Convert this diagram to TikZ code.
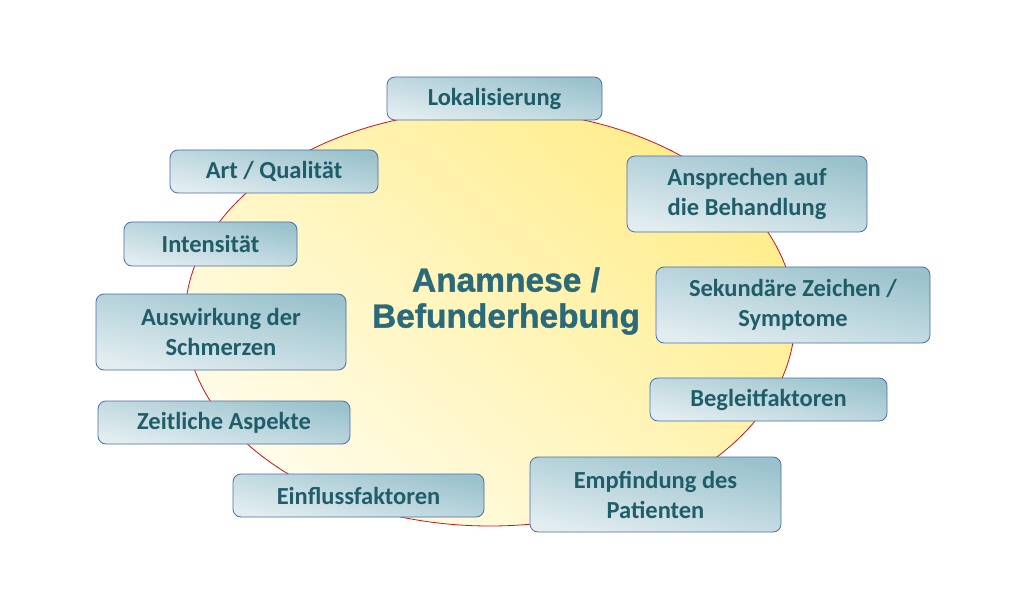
\documentclass[tikz,border=0pt]{standalone}
\usepackage{fontspec}
\setmainfont{Carlito}
\newfontfamily\titlefont[BoldFeatures={FakeBold=1.2}]{Liberation Sans}
\usetikzlibrary{shapes.geometric,shadings}
\definecolor{txt}{HTML}{1F5D69}
\definecolor{ttl}{HTML}{2A6A7A}
\definecolor{boxdark}{HTML}{9AC2CC}
\definecolor{boxlight}{HTML}{E2EDF1}
\definecolor{boxline}{HTML}{4A6DA8}
\definecolor{elldark}{HTML}{FFED8C}
\definecolor{elllight}{HTML}{FFFCE8}
\definecolor{ellline}{HTML}{C8141E}
\tikzset{
  topic/.style={draw=boxline, line width=0.8pt, rounded corners=8pt,
    top color=boxdark, bottom color=boxlight, shading angle=-12,
    font=\fontsize{24.5}{30}\selectfont\bfseries, text=txt, align=center,
    inner sep=0pt, minimum height=#1},
  topic/.default=43pt
}
\begin{document}
\begin{tikzpicture}[x=1pt,y=-1pt]
\useasboundingbox (0,0) rectangle (1024,593);
\node[ellipse, draw=ellline, line width=0.8pt, top color=elldark, bottom color=elllight, shading angle=-40,
  minimum width=610pt, minimum height=416pt, inner sep=0pt] (ell) at (490,318) {};
\node[font=\titlefont\fontsize{33.5}{36}\selectfont\bfseries, text=ttl, align=center] (title) at (506,301) {Anamnese /\\Befunderhebung};
\node[topic, minimum width=215pt] (lok) at (494.5,98.5) {Lokalisierung};
\node[topic, minimum width=208pt] (art) at (274,171.5) {Art / Qualität};
\node[topic=76pt, minimum width=240pt] (ans) at (747,194) {Ansprechen auf\\die Behandlung};
\node[topic=44pt, minimum width=173pt] (int) at (210.5,244) {Intensität};
\node[topic=76pt, minimum width=274pt] (sek) at (793,305) {Sekundäre Zeichen /\\Symptome};
\node[topic=76pt, minimum width=250pt] (aus) at (221,332) {Auswirkung der\\Schmerzen};
\node[topic, minimum width=237pt] (beg) at (768.5,399.5) {Begleitfaktoren};
\node[topic, minimum width=252pt] (zei) at (224,422.5) {Zeitliche Aspekte};
\node[topic, minimum width=251pt] (ein) at (358.5,495.5) {Einflussfaktoren};
\node[topic=75pt, minimum width=251pt] (emp) at (655.5,494.5) {Empfindung des\\Patienten};
\end{tikzpicture}
\end{document}
